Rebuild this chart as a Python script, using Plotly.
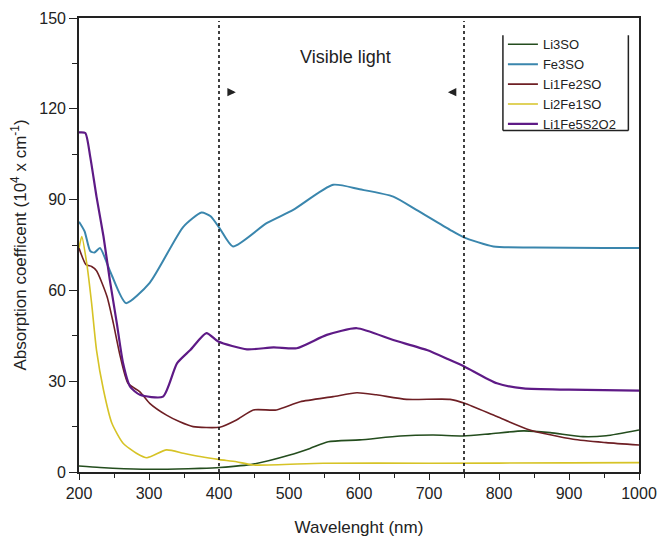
import plotly.graph_objects as go

# ---- data ----
li3so_x = [200, 230, 290, 340, 373, 401, 449, 501, 530, 556, 601, 659, 706, 749, 787, 835, 873, 920, 953, 1000]
li3so_y = [2.0, 1.5, 0.9, 1.0, 1.2, 1.5, 2.6, 5.6, 7.8, 10.0, 10.6, 11.9, 12.2, 11.9, 12.6, 13.6, 13.0, 11.7, 12.0, 13.9]

fe3so_x = [200, 208, 216, 222, 230, 245, 267, 301, 349, 375, 388, 401, 420, 468, 506, 563, 601, 649, 682, 730, 749, 792, 850, 950, 1000]
fe3so_y = [82.7, 79.5, 73.0, 72.5, 74.0, 66.0, 55.8, 62.5, 81.0, 85.7, 84.5, 80.5, 74.5, 82.2, 86.6, 94.9, 93.4, 91.0, 86.6, 80.0, 77.6, 74.5, 74.2, 74.0, 74.0]

li1fe2so_x = [200, 210, 218, 225, 240, 249, 259, 270, 287, 301, 325, 344, 363, 401, 425, 449, 482, 516, 563, 597, 625, 668, 730, 751, 797, 844, 906, 953, 1000]
li1fe2so_y = [74.0, 68.5, 67.9, 66.5, 58.0, 49.2, 38.1, 29.3, 26.5, 22.7, 18.8, 16.6, 15.0, 14.8, 17.2, 20.5, 20.5, 23.2, 24.9, 26.2, 25.5, 24.0, 24.0, 22.7, 18.3, 13.9, 10.8, 9.7, 8.9]

li2fe1so_x = [200, 204, 211, 218, 225, 235, 247, 263, 282, 297, 325, 349, 373, 401, 425, 449, 549, 700, 900, 1000]
li2fe1so_y = [74.0, 77.8, 69.0, 55.8, 40.3, 27.1, 16.1, 9.5, 6.2, 4.7, 7.3, 6.2, 5.1, 4.1, 3.4, 2.3, 2.9, 2.9, 3.0, 3.1]

li1fe5s2o2_x = [200, 209, 216, 225, 235, 244, 254, 263, 273, 287, 320, 340, 359, 382, 399, 440, 478, 511, 554, 597, 649, 697, 730, 751, 797, 835, 900, 1000]
li1fe5s2o2_y = [112.2, 112.0, 104.2, 91.0, 77.8, 63.5, 49.2, 35.9, 28.2, 25.5, 24.9, 35.9, 40.3, 45.9, 43.1, 40.5, 41.2, 40.9, 45.3, 47.5, 43.6, 40.3, 37.0, 34.8, 29.3, 27.6, 27.2, 26.9]

series_names = ["Li3SO", "Fe3SO", "Li1Fe2SO", "Li2Fe1SO", "Li1Fe5S2O2"]
series_x = [li3so_x, fe3so_x, li1fe2so_x, li2fe1so_x, li1fe5s2o2_x]
series_y = [li3so_y, fe3so_y, li1fe2so_y, li2fe1so_y, li1fe5s2o2_y]
colors = ["#244d1e", "#3a86ad", "#6e1f24", "#d6c326", "#5e1a86"]
widths = [1.6, 2.0, 1.6, 1.6, 2.2]

visible_bounds = [400, 750]
x_ticks = [200, 300, 400, 500, 600, 700, 800, 900, 1000]
y_ticks = [0, 30, 60, 90, 120, 150]

fig = go.Figure()
for name, xs, ys, c, w in zip(series_names, series_x, series_y, colors, widths):
    fig.add_trace(go.Scatter(x=xs, y=ys, name=name, mode="lines",
                             line=dict(color=c, width=w, shape="spline", smoothing=0.6)))

for b in visible_bounds:
    fig.add_shape(type="line", x0=b, x1=b, y0=0, y1=149, xref="x", yref="y",
                  line=dict(color="#111", width=1.6, dash="dot"))

fig.add_annotation(x=580, y=137, text="Visible light", showarrow=False,
                   font=dict(size=18, color="#222"))
# small markers beside the dotted lines
fig.add_annotation(x=424, y=125.5, ax=-10, ay=0, text=" ", showarrow=True,
                   arrowhead=2, arrowsize=0.7, arrowwidth=2.4, arrowcolor="#222")
fig.add_annotation(x=727, y=125.5, ax=10, ay=0, text=" ", showarrow=True,
                   arrowhead=2, arrowsize=0.7, arrowwidth=2.4, arrowcolor="#222")

# legend frame (open at the top, as in the reference)
lx0, lx1, ly0, ly1 = 0.757, 0.981, 0.752, 0.962
for (a, b, c, d) in [(lx0, ly0, lx0, ly1), (lx1, ly0, lx1, ly1), (lx0, ly0, lx1, ly0)]:
    fig.add_shape(type="line", xref="paper", yref="paper", x0=a, y0=b, x1=c, y1=d,
                  line=dict(color="#222", width=1.5))

axis_common = dict(showline=True, linecolor="#222", linewidth=1.6, mirror=True,
                   ticks="outside", tickwidth=1.3, tickcolor="#222",
                   showgrid=False, zeroline=False, automargin=False,
                   tickfont=dict(size=16, color="#222"))

fig.update_xaxes(range=[200, 1000], tickvals=x_ticks, ticklen=6,
                 minor=dict(dtick=50, ticks="outside", ticklen=4, tickcolor="#222"),
                 title=dict(text="Wavelenght (nm)", font=dict(size=17, color="#222"), standoff=20),
                 **axis_common)
fig.update_yaxes(range=[0, 150], tickvals=y_ticks, ticklen=8,
                 minor=dict(dtick=15, ticks="outside", ticklen=5, tickcolor="#222"),
                 title=dict(text="Absorption coefficent (10<sup>4</sup> x cm<sup>-1</sup>)",
                            font=dict(size=17, color="#222"), standoff=8),
                 **axis_common)

fig.update_layout(
    width=661, height=538,
    margin=dict(l=79, r=22, t=18, b=66, autoexpand=False),
    paper_bgcolor="white", plot_bgcolor="white",
    font=dict(family="Liberation Sans, Arial, sans-serif", color="#222"),
    legend=dict(x=0.757, y=0.975, xanchor="left", yanchor="top",
                borderwidth=0, bgcolor="rgba(0,0,0,0)",
                font=dict(size=13, color="#222"), itemwidth=30,
                tracegroupgap=0),
    showlegend=True,
)

fig.write_html("out.html")
